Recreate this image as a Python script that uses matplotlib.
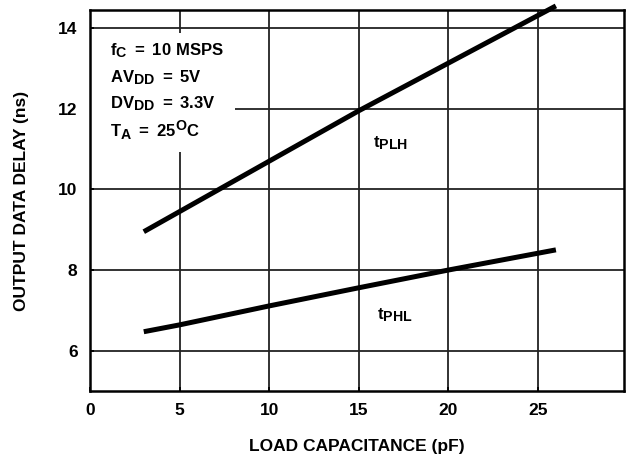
import numpy as np
import matplotlib
import matplotlib.pyplot as plt
from matplotlib.patches import Rectangle

plt.rcParams['font.family'] = ['Liberation Sans', 'DejaVu Sans']
plt.rcParams['font.weight'] = 'bold'
plt.rcParams['mathtext.fontset'] = 'custom'
plt.rcParams['mathtext.rm'] = 'Liberation Sans:bold'
plt.rcParams['mathtext.bf'] = 'Liberation Sans:bold'
plt.rcParams['mathtext.it'] = 'Liberation Sans:bold'
# larger subscripts than the mathtext default
matplotlib._mathtext.SHRINK_FACTOR = 0.85

# load capacitance (pF) vs output data delay (ns)
cap_plh = [3, 15, 26]
t_plh = [8.95, 11.95, 14.55]
cap_phl = [3, 5, 10, 15, 20, 26]
t_phl = [6.47, 6.64, 7.11, 7.56, 8.0, 8.5]

x_ticks = [0, 5, 10, 15, 20, 25]
y_ticks = [6, 8, 10, 12, 14]

conditions = [
    r'$\mathrm{f_C\ =\ 10\ MSPS}$',
    r'$\mathrm{AV_{DD}\ =\ 5V}$',
    r'$\mathrm{DV_{DD}\ =\ 3.3V}$',
    r'$\mathrm{T_A\ =\ 25^{O}C}$',
]
cond_y = [13.33, 12.66, 12.01, 11.30]

fig = plt.figure(figsize=(6.26, 4.58), dpi=100)
ax = fig.add_axes([0.1438, 0.1463, 0.853, 0.832])

ax.plot(cap_plh, t_plh, color='black', lw=3.6, solid_capstyle='butt', clip_on=False, zorder=3)
ax.plot(cap_phl, t_phl, color='black', lw=3.6, solid_capstyle='butt', clip_on=False, zorder=3)

ax.set_xlim(0, 29.8)
ax.set_ylim(5, 14.45)
ax.set_xticks(x_ticks)
ax.set_yticks(y_ticks)
ax.tick_params(direction='in', length=3, width=1.3, labelsize=12.5, pad=9)
for lab in ax.get_xticklabels() + ax.get_yticklabels():
    lab.set_fontweight('bold')

ax.set_axisbelow(True)
ax.grid(True, color='#222222', lw=1.3)
for sp in ax.spines.values():
    sp.set_linewidth(1.8)

# white panel behind the operating conditions
ax.add_patch(Rectangle((0, 10.93), 8.1, 2.94, facecolor='white', edgecolor='none', zorder=1))
for txt, y in zip(conditions, cond_y):
    ax.text(1.1, y, txt, fontsize=12, va='baseline', ha='left', zorder=4)

ax.text(15.8, 11.15, r'$\mathrm{t_{PLH}}$', fontsize=12, va='center', ha='left', zorder=4)
ax.text(16.0, 6.87, r'$\mathrm{t_{PHL}}$', fontsize=12, va='center', ha='left', zorder=4)

ax.set_xlabel('LOAD CAPACITANCE (pF)', fontsize=12.5, fontweight='bold', labelpad=15)
ax.set_ylabel('OUTPUT DATA DELAY (ns)', fontsize=12.5, fontweight='bold', labelpad=21)

fig.savefig('out.png', dpi=100)
